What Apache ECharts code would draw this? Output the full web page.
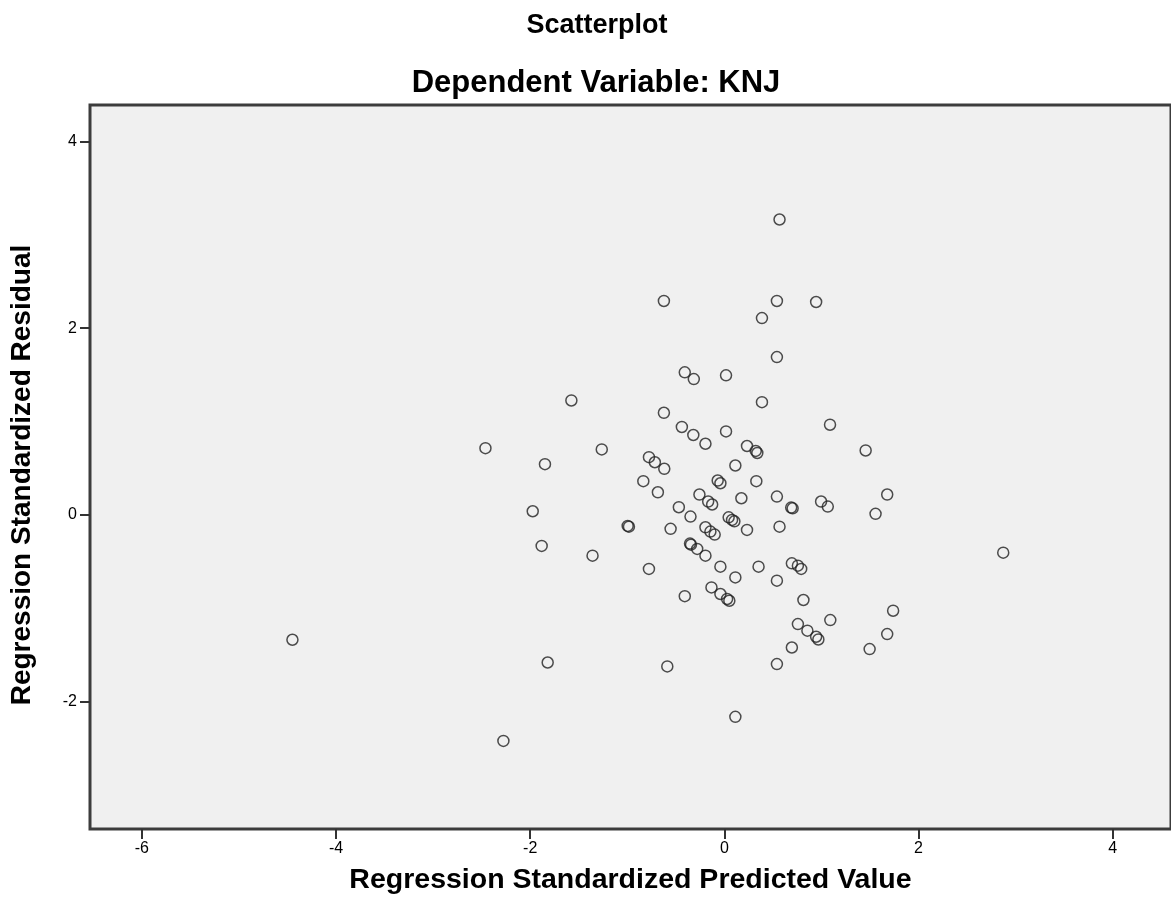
<!DOCTYPE html>
<html>
<head>
<meta charset="utf-8">
<script src="https://cdn.jsdelivr.net/npm/echarts@6/dist/echarts.min.js"></script>
<style>
html,body{margin:0;padding:0;background:#fff;}
#chart{width:1171px;height:920px;}
</style>
</head>
<body>
<div id="chart"></div>
<script>
// Regression Standardized Predicted Value (x)
const predicted = [
  0.568, -0.623, 0.541, 0.945, 0.387, 0.541, -0.408, -0.315, 0.017, -1.576,
  0.387, -0.623, 1.088, -0.438, -0.320, 0.017, -0.195, -2.461, -1.263, 0.233,
  0.323, 0.339, 1.455, -1.848, -0.777, -0.716, -0.619, 0.113, -0.835, -0.685,
  0.329, -0.069, -0.041, -0.257, -0.167, -0.126, 0.175, 0.541, 0.688, 0.703,
  0.996, 1.065, 1.677, 1.557, -1.974, -0.469, -0.349, -0.996, -0.983, -0.554,
  -0.195, -0.144, -0.100, 0.044, 0.079, 0.103, 0.233, 0.568, -1.882, -1.358,
  -0.354, -0.344, -0.280, -0.195, -0.041, 0.113, 0.352, -0.777, 0.541, 0.695,
  0.757, 0.791, 2.872, 0.814, -0.408, -0.133, -0.041, 0.028, 0.051, 0.757,
  0.855, 0.945, 0.968, 1.091, 0.695, 0.541, 1.496, 1.677, 1.738, -0.588,
  0.113, -4.449, -1.820, -2.276
];
// Regression Standardized Residual (y)
const residual = [
  3.165, 2.292, 2.292, 2.281, 2.109, 1.691, 1.527, 1.455, 1.495, 1.226,
  1.208, 1.094, 0.966, 0.942, 0.856, 0.894, 0.762, 0.715, 0.701, 0.738,
  0.685, 0.663, 0.690, 0.543, 0.618, 0.564, 0.494, 0.529, 0.361, 0.242,
  0.361, 0.368, 0.339, 0.218, 0.143, 0.111, 0.178, 0.196, 0.078, 0.070,
  0.143, 0.089, 0.218, 0.011, 0.039, 0.082, -0.018, -0.118, -0.126, -0.150,
  -0.133, -0.179, -0.211, -0.026, -0.054, -0.069, -0.161, -0.126, -0.333, -0.437,
  -0.308, -0.319, -0.365, -0.437, -0.555, -0.670, -0.555, -0.579, -0.705, -0.519,
  -0.544, -0.579, -0.405, -0.912, -0.871, -0.777, -0.848, -0.901, -0.920, -1.170,
  -1.241, -1.306, -1.335, -1.127, -1.421, -1.599, -1.438, -1.277, -1.027, -1.624,
  -2.164, -1.338, -1.582, -2.422
];
const xTicks = [-6, -4, -2, 0, 2, 4];
const yTicks = [-2, 0, 2, 4];

const points = predicted.map((v, i) => [v, residual[i]]);
const FONT = '"Liberation Sans", Arial, sans-serif';

const chart = echarts.init(document.getElementById('chart'), null, {renderer: 'canvas'});
chart.setOption({
  animation: false,
  backgroundColor: '#ffffff',
  title: [
    {text: 'Scatterplot', left: 592, top: 7, textAlign: 'center',
     textStyle: {fontFamily: FONT, fontWeight: 'bold', fontSize: 27, color: '#000'}},
    {text: 'Dependent Variable: KNJ', left: 591, top: 63, textAlign: 'center',
     textStyle: {fontFamily: FONT, fontWeight: 'bold', fontSize: 31, color: '#000'}}
  ],
  grid: {
    left: 90, top: 105, width: 1085, height: 724,
    show: true, backgroundColor: '#f0f0f0', borderColor: '#3c3c3c', borderWidth: 3
  },
  xAxis: {
    type: 'value', min: -6.534, max: 4.6,
    name: 'Regression Standardized Predicted Value',
    nameLocation: 'middle', nameGap: 37,
    nameTextStyle: {fontFamily: FONT, fontWeight: 'bold', fontSize: 28.5, color: '#000'},
    axisLine: {show: false, onZero: false},
    splitLine: {show: false},
    axisTick: {show: true, length: 10, lineStyle: {color: '#333', width: 2}, customValues: xTicks},
    axisLabel: {fontFamily: FONT, fontSize: 16, color: '#000', margin: 12, customValues: xTicks}
  },
  yAxis: {
    type: 'value', min: -3.366, max: 4.392,
    name: 'Regression Standardized Residual',
    nameLocation: 'middle', nameGap: 54, nameRotate: 90,
    nameTextStyle: {fontFamily: FONT, fontWeight: 'bold', fontSize: 28, color: '#000', padding: [0, 16, 0, 0]},
    axisLine: {show: false, onZero: false},
    splitLine: {show: false},
    axisTick: {show: true, length: 10, lineStyle: {color: '#333', width: 2}, customValues: yTicks},
    axisLabel: {fontFamily: FONT, fontSize: 16, color: '#000', margin: 13, customValues: yTicks}
  },
  series: [{
    type: 'scatter',
    data: points,
    symbol: 'circle',
    symbolSize: 11,
    itemStyle: {color: 'rgba(0,0,0,0)', borderColor: '#222', borderWidth: 1.5}
  }]
});
</script>
</body>
</html>
